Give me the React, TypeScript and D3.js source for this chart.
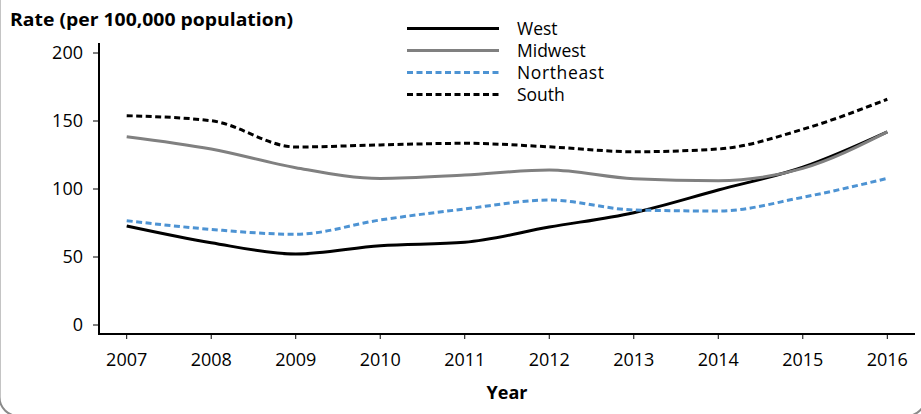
import React from "react";
import * as d3 from "d3";

const years = [2007, 2008, 2009, 2010, 2011, 2012, 2013, 2014, 2015, 2016];
const west = [72.8, 60.5, 52.2, 58.3, 60.8, 72, 82.6, 99.3, 116, 142];
const midwest = [138.5, 129.4, 115.7, 107.8, 110.3, 114, 107.6, 106.1, 115.2, 142];
const northeast = [76.7, 70.3, 66.7, 77.2, 85.3, 91.9, 84.6, 83.8, 93.9, 107.8];
const south = [153.9, 150.2, 130.9, 132.4, 133.6, 131, 127.4, 129.4, 143.9, 166];
const yTicks = [0, 50, 100, 150, 200];
const seriesNames = ["West", "Midwest", "Northeast", "South"];

const FONT = "'Open Sans', 'Noto Sans', sans-serif";

export default function App() {
  const W = 921, H = 414;
  const x = d3.scaleLinear().domain([2007, 2016]).range([126.7, 887.3]);
  const y = d3.scaleLinear().domain([0, 200]).range([325, 53]);
  const styles = [
    { data: west, color: "#000000", dash: "" },
    { data: midwest, color: "#808080", dash: "" },
    { data: northeast, color: "#4d93d3", dash: "6,3.5" },
    { data: south, color: "#000000", dash: "6,3.5" },
  ];
  const line = d3
    .line<number>()
    .x((_, i) => x(years[i]))
    .y((d) => y(d))
    .curve(d3.curveMonotoneX);
  const axisY = 334;
  return (
    <svg width={W} height={H} style={{ position: "absolute", left: 0, top: 0 }} fontFamily={FONT}>
      <rect x={-0.5} y={-40} width={926} height={456} rx={19} ry={19} fill="none" stroke="#8a8a8a" strokeWidth={2} />
      <text x={10} y={26} fontSize={18.5} fontWeight="bold" fill="#000" textLength={283} lengthAdjust="spacingAndGlyphs">
        Rate (per 100,000 population)
      </text>
      {/* y axis */}
      <line x1={99} x2={99} y1={43} y2={axisY + 1} stroke="#000" strokeWidth={2} />
      {yTicks.map((t) => (
        <g key={t}>
          <line x1={93} x2={99} y1={y(t)} y2={y(t)} stroke="#000" strokeWidth={1} />
          <text x={83} y={y(t)} dy="0.35em" textAnchor="end" fontSize={18} fill="#000">
            {t}
          </text>
        </g>
      ))}
      {/* x axis */}
      <line x1={98} x2={915} y1={axisY} y2={axisY} stroke="#000" strokeWidth={2} />
      {years.map((yr) => (
        <g key={yr}>
          <line x1={x(yr)} x2={x(yr)} y1={axisY} y2={axisY + 5} stroke="#000" strokeWidth={1} />
          <text x={x(yr)} y={360} dy="0.35em" textAnchor="middle" fontSize={18} fill="#000">
            {yr}
          </text>
        </g>
      ))}
      <text x={507} y={393} dy="0.35em" textAnchor="middle" fontSize={18} fontWeight="bold" fill="#000">
        Year
      </text>
      {/* lines */}
      {styles.map((s, i) => (
        <path
          key={i}
          d={line(s.data) || ""}
          fill="none"
          stroke={s.color}
          strokeWidth={3}
          strokeDasharray={s.dash}
        />
      ))}
      {/* legend */}
      {styles.map((s, i) => {
        const ly = [28.5, 50.5, 72.5, 94.5][i];
        return (
          <g key={i}>
            <line x1={407} x2={499} y1={ly} y2={ly} stroke={s.color} strokeWidth={3} strokeDasharray={s.dash} />
            <text x={517} y={ly} dy="0.35em" fontSize={17.5} fill="#000" textLength={seriesNames[i].length > 8 ? 87 : undefined}>
              {seriesNames[i]}
            </text>
          </g>
        );
      })}
    </svg>
  );
}
